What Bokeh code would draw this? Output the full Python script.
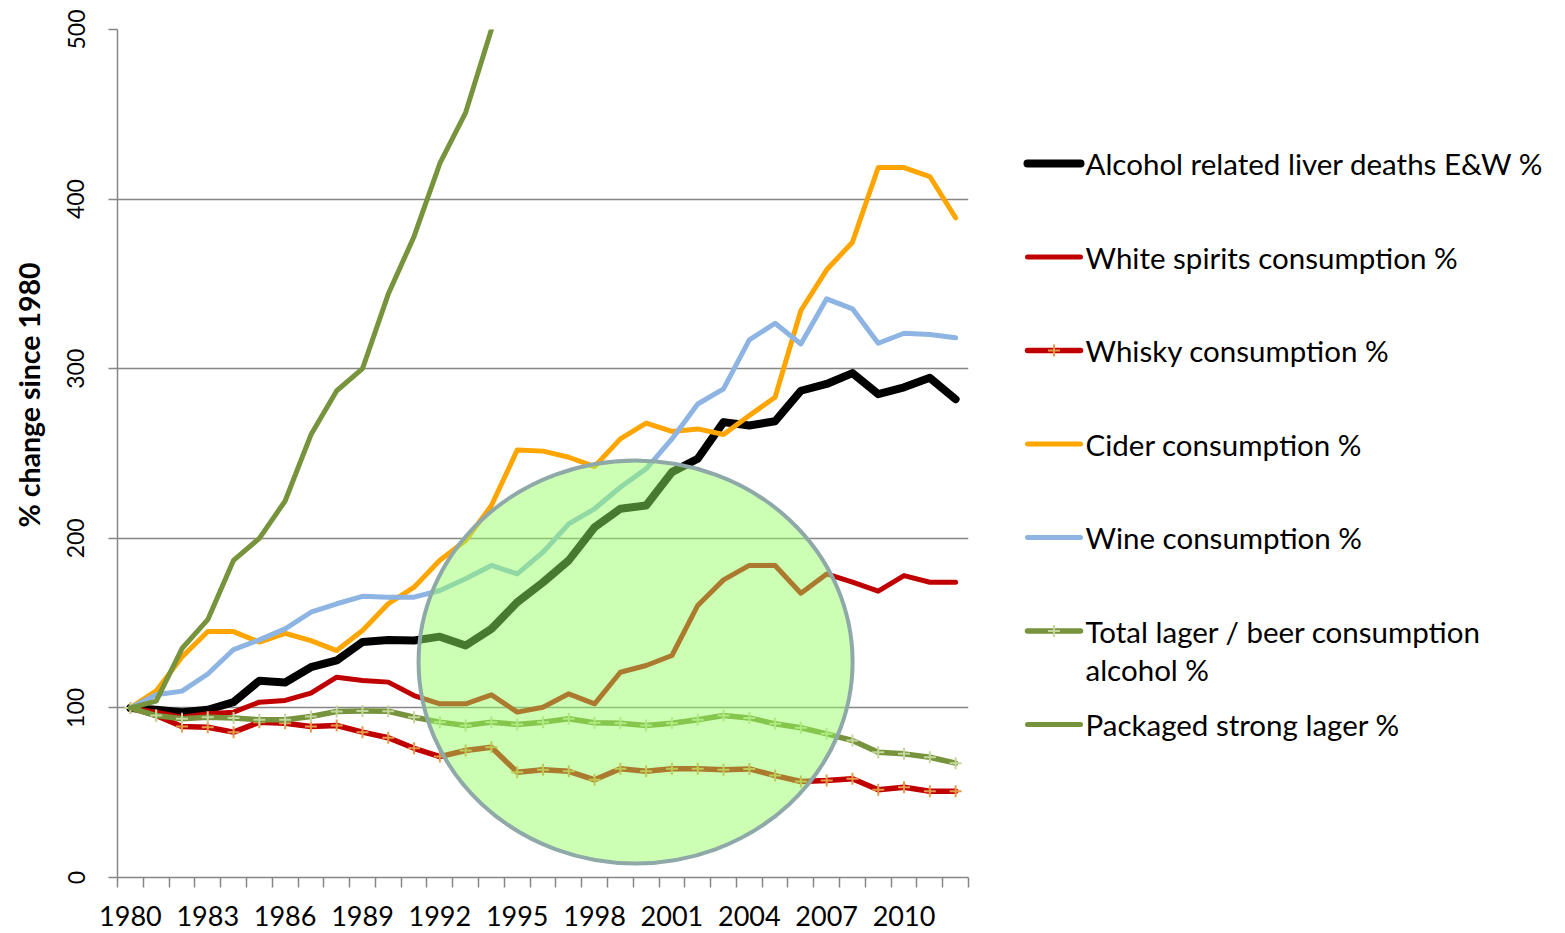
import math
from bokeh.plotting import figure
from bokeh.models import Range1d, FixedTicker
from bokeh.layouts import row
from bokeh.embed import file_html
from bokeh.resources import INLINE
from bokeh.core.properties import value

# ---------------- data ----------------
years = list(range(1980, 2013))
tick_years = [1980, 1983, 1986, 1989, 1992, 1995, 1998, 2001, 2004, 2007, 2010]
y_ticks = [0, 100, 200, 300, 400, 500]

liver_deaths = [100, 98.9, 97.5, 98.9, 103.4, 116, 115, 124, 128, 138.8, 140.1, 139.7, 142, 136.8, 146.6,
                162.3, 174, 187, 206.5, 217.4, 219.3, 239, 246.9, 268.5, 266.5, 269, 287, 291, 297.4,
                285, 289, 294.6, 282]
white_spirits = [100, 97.5, 94.5, 96.5, 97.5, 103.4, 104.4, 108.7, 118.1, 116.2, 115.2, 107.3, 102.4, 102.4,
                 107.7, 97.5, 100.4, 108.3, 102.4, 121, 125, 130.9, 160.4, 175.5, 184, 184, 167.6, 179,
                 174.1, 168.8, 178, 174.1, 174.1]
whisky = [100, 95.5, 89, 88.6, 85.7, 91.6, 91, 89, 89.6, 85.7, 82.4, 76.2, 71.3, 74.9, 76.8,
          62.1, 63.5, 62.6, 57.6, 64.1, 62.6, 64.1, 64.1, 63.5, 64, 60.1, 56.6, 57.2, 58.2, 51.7,
          53.2, 50.9, 50.9]
cider = [100, 110, 130, 145, 145, 138.8, 144, 139.7, 133.8, 145.6, 161.4, 171.2, 187, 198.7, 219.3,
         252, 251.4, 247.8, 242.3, 258.6, 267.9, 263, 264.5, 261.2, 272.4, 283.2, 334.3, 358.3, 374.6,
         418.6, 418.6, 413.3, 389]
wine = [100, 107.7, 109.9, 120, 134.4, 140.1, 146.6, 156.4, 161.4, 165.8, 165.3, 165.3, 169.2, 176.1, 184,
        179, 191.8, 208.5, 217.4, 230.1, 241, 258.6, 279.2, 288.1, 317, 326.8, 314.6, 341.2, 335.3,
        315, 320.9, 320.2, 318.2]
total_lager = [100, 95.5, 93.6, 94.5, 94.1, 93, 93, 94.9, 97.9, 98.1, 98, 94.5, 91.6, 89.6, 91.6,
               90.2, 91.6, 93.6, 91.2, 91, 89.6, 91, 93, 95.5, 94.1, 90.6, 88.3, 84.7, 80.8, 73.9,
               72.9, 70.9, 67.4]
# visible part only (the series runs above 500 after 1994 and is clipped in the original)
strong_lager = [100, 104, 135, 152, 187, 200, 222, 261, 287, 300, 344, 378, 421, 451, 500]

series_names = ["Alcohol related liver deaths E&W %", "White spirits consumption %", "Whisky consumption %",
                "Cider consumption %", "Wine consumption %", "Total lager / beer consumption\nalcohol %",
                "Packaged strong lager %"]
series_values = [liver_deaths, white_spirits, whisky, cider, wine, total_lager, strong_lager]
series_colors = ["#000000", "#C00000", "#C00000", "#FFA500", "#8DB4E2", "#77933C", "#77933C"]
series_widths = [8, 5, 5.5, 5, 5, 5.5, 5]
series_markers = [None, None, "#E59A4A", None, None, "#C3D69B", None]

y_title = "% change since 1980"

# highlight ellipse (annotation)
circle_x, circle_y, circle_w, circle_h = 1999.59, 127.1, 16.83, 237.6

FONT = "Lato"
GRID = "#868686"
H = 933
B_TOP, B_BOT = 29, 56          # shared top / bottom borders (frames are aligned in the row)
PY0, PY1 = B_TOP, H - B_BOT    # page y of frame top / bottom


def side_panel(w):
    f = figure(width=w, height=H, output_backend="svg", toolbar_location=None, title=None,
               x_range=Range1d(0, w), y_range=Range1d(PY1, PY0), x_axis_type=None, y_axis_type=None,
               min_border_left=0, min_border_right=0, min_border_top=B_TOP, min_border_bottom=B_BOT,
               outline_line_color=None, border_fill_color="white", background_fill_color="white")
    f.grid.visible = False
    return f


# ---------------- y-axis title strip ----------------
TW = 50
tfig = side_panel(TW)
tfig.text([28], [394.5], text=[y_title], angle=math.pi / 2, text_font=value(FONT), text_font_size="28.5px",
          text_font_style="bold", text_color="black", text_align="center", text_baseline="alphabetic")

# ---------------- main plot ----------------
p = figure(width=958, height=H, output_backend="svg", toolbar_location=None, title=None,
           x_range=Range1d(1979.5, 2012.5), y_range=Range1d(0, 500),
           min_border_left=67, min_border_right=40, min_border_top=B_TOP, min_border_bottom=B_BOT,
           outline_line_color=None, background_fill_color="white", border_fill_color="white")

for vals, col, w, mk in zip(series_values, series_colors, series_widths, series_markers):
    xs = years[:len(vals)]
    p.line(xs, vals, line_color=col, line_width=w, line_join="round", line_cap="round")
    if mk:
        p.scatter(xs, vals, marker="cross", size=12, line_color=mk, line_width=2)

p.ellipse(x=[circle_x], y=[circle_y], width=[circle_w], height=[circle_h],
          fill_color="#95FF61", fill_alpha=0.48, line_color="#8FA8A8", line_width=4)

p.xgrid.visible = False
p.ygrid.grid_line_color = GRID
p.ygrid.grid_line_width = 1.5

minor = [y - 0.5 for y in years] + [years[-1] + 0.5]
p.xaxis.ticker = FixedTicker(ticks=tick_years, minor_ticks=minor)
p.xaxis.major_tick_out = 0
p.xaxis.major_tick_in = 0
p.xaxis.minor_tick_out = 10
p.xaxis.minor_tick_in = 0
p.xaxis.minor_tick_line_color = GRID
p.xaxis.minor_tick_line_width = 1.5
p.xaxis.axis_line_color = GRID
p.xaxis.axis_line_width = 1.5
p.xaxis.major_label_text_font = FONT
p.xaxis.major_label_text_font_size = "27px"
p.xaxis.major_label_text_color = "black"
p.xaxis.major_label_standoff = 18

p.yaxis.ticker = FixedTicker(ticks=y_ticks, minor_ticks=[])
p.yaxis.major_tick_out = 9
p.yaxis.major_tick_in = 0
p.yaxis.major_tick_line_color = GRID
p.yaxis.major_tick_line_width = 1.5
p.yaxis.axis_line_color = GRID
p.yaxis.axis_line_width = 1.5
p.yaxis.major_label_orientation = "vertical"
p.yaxis.major_label_text_font = FONT
p.yaxis.major_label_text_font_size = "23px"
p.yaxis.major_label_text_color = "black"
p.yaxis.major_label_standoff = 24

# ---------------- legend panel ----------------
LW = 549
leg = side_panel(LW)

LEG_Y0, LEG_DY, LEG_X0, LEG_X1, LEG_TX, LINE_H = 163, 93.5, 19, 72, 77, 38
for i, (name, col, w, mk) in enumerate(zip(series_names, series_colors, series_widths, series_markers)):
    yy = LEG_Y0 + i * LEG_DY
    leg.line([LEG_X0, LEG_X1], [yy, yy], line_color=col, line_width=w, line_cap="round")
    if mk:
        leg.scatter([(LEG_X0 + LEG_X1) / 2], [yy], marker="cross", size=12, line_color=mk, line_width=2)
    for k, part in enumerate(name.split("\n")):
        leg.text([LEG_TX], [yy + k * LINE_H], text=[part], text_font=value(FONT), text_font_size="29.5px",
                 text_color="black", text_baseline="middle", text_align="left")

layout = row(tfig, p, leg)
open("out.html", "w").write(file_html(layout, INLINE))
